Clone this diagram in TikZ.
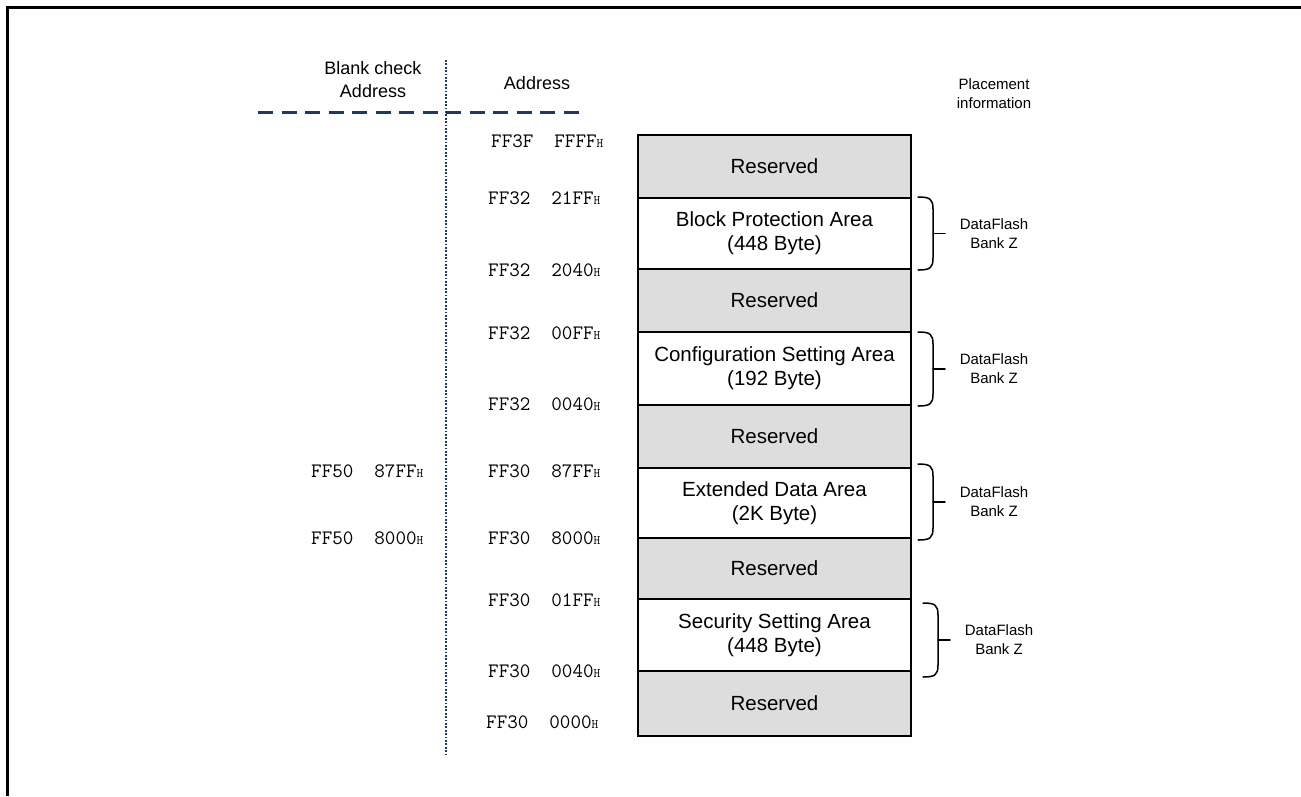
\documentclass[tikz,border=0pt]{standalone}
\usepackage{fontspec}
\setmainfont{Liberation Sans}
\usetikzlibrary{calc}
\definecolor{navy}{RGB}{31,56,100}
\definecolor{resgray}{RGB}{221,221,221}
\newcommand{\adr}[2]{#1\hspace{21pt}#2{\fontsize{13}{13}\selectfont H}}
\newcommand\bankbrace[4]{%
  \draw[brc] (#1,#2) .. controls (#1+12,#2) and (#1+15,#2+2) .. (#1+15,#2+12) -- (#1+15,#3-12) .. controls (#1+15,#3-2) and (#1+12,#3) .. (#1,#3);
  \draw[brc] (#1+15,{(#2+#3)/2}) -- (#1+27,{(#2+#3)/2});
  \node[bank] (#4) at (#1+76,{(#2+#3)/2}) {DataFlash\\Bank Z};
}
\begin{document}
\begin{tikzpicture}[x=1pt,y=-1pt,
  row/.style={draw=black,line width=2.5pt,minimum width=273pt,inner sep=0pt,align=center,font=\fontsize{20.5}{24}\selectfont},
  res/.style={row,fill=resgray},
  area/.style={row,fill=white},
  addr/.style={anchor=west,inner sep=0pt,font=\fontsize{20.5}{21}\ttfamily},
  hdr/.style={align=center,inner sep=0pt,font=\fontsize{18}{23}\selectfont},
  bank/.style={align=center,inner sep=0pt,font=\fontsize{15}{19}\selectfont},
  brc/.style={line width=1.5pt,line cap=round},
  frame/.style={line width=3pt},
  sepdot/.style={navy,line width=2.3pt,dash pattern=on 1.8pt off 1.6pt},
  sepdash/.style={navy,line width=3pt,dash pattern=on 15pt off 8.5pt}]
\useasboundingbox (0,0) rectangle (1301,796);
\draw[frame] (1301,7.5) -- (7.5,7.5) -- (7.5,796);

% separators
\coordinate (dl) at (258,112.5);
\coordinate (dr) at (584,112.5);
\coordinate (dt) at (446,60);
\coordinate (db) at (446,754);
\draw[sepdash] (dl) -- (dr);
\draw[sepdot] (dt) -- (db);

% headers
\node[hdr] (bch) at (373,80) {Blank check\\Address};
\node[hdr] (ah) at (537,83) {Address};
\node[bank] (pi) at (994,94) {Placement\\information};

% memory rows
\node[res,minimum height=63pt] (r1) at (774.5,166.5) {Reserved};
\node[area,minimum height=71pt] (r2) at (774.5,233.5) {Block Protection Area\\(448 Byte)};
\node[res,minimum height=63pt] (r3) at (774.5,300.5) {Reserved};
\node[area,minimum height=73pt] (r4) at (774.5,368.5) {Configuration Setting Area\\(192 Byte)};
\node[res,minimum height=63pt] (r5) at (774.5,436.5) {Reserved};
\node[area,minimum height=70pt] (r6) at (774.5,503) {Extended Data Area\\(2K Byte)};
\node[res,minimum height=61pt] (r7) at (774.5,568.5) {Reserved};
\node[area,minimum height=72pt] (r8) at (774.5,635) {Security Setting Area\\(448 Byte)};
\node[res,minimum height=65pt] (r9) at (774.5,703.5) {Reserved};

% addresses
\node[addr] (a1) at (491,141) {\adr{FF3F}{FFFF}};
\node[addr] (a2) at (488,198) {\adr{FF32}{21FF}};
\node[addr] (a3) at (488,270) {\adr{FF32}{2040}};
\node[addr] (a4) at (488,333) {\adr{FF32}{00FF}};
\node[addr] (a5) at (488,404) {\adr{FF32}{0040}};
\node[addr] (a6) at (488,471) {\adr{FF30}{87FF}};
\node[addr] (a7) at (488,538) {\adr{FF30}{8000}};
\node[addr] (a8) at (488,600) {\adr{FF30}{01FF}};
\node[addr] (a9) at (488,671) {\adr{FF30}{0040}};
\node[addr] (a10) at (486,722) {\adr{FF30}{0000}};
\node[addr] (b1) at (311,471) {\adr{FF50}{87FF}};
\node[addr] (b2) at (311,538) {\adr{FF50}{8000}};

% braces
\bankbrace{918}{197}{270}{k1}
\bankbrace{918}{332}{406}{k2}
\bankbrace{918}{464}{540}{k3}
\bankbrace{923}{603}{677}{k4}
\end{tikzpicture}
\end{document}
